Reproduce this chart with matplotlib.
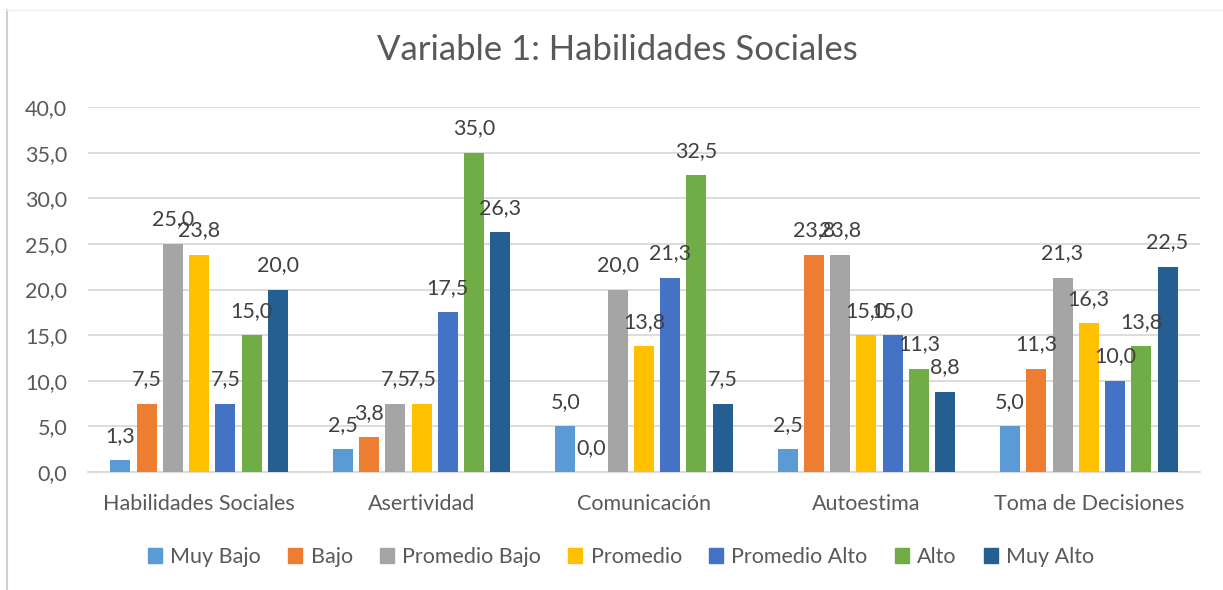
import numpy as np
import matplotlib
matplotlib.use("Agg")
from matplotlib import pyplot as plt
from matplotlib.lines import Line2D

plt.rcParams['font.family'] = ['Lato', 'DejaVu Sans']

categories = ["Habilidades Sociales", "Asertividad", "Comunicación", "Autoestima", "Toma de Decisiones"]
levels = ["Muy Bajo", "Bajo", "Promedio Bajo", "Promedio", "Promedio Alto", "Alto", "Muy Alto"]

muy_bajo = [1.3, 2.5, 5.0, 2.5, 5.0]
bajo = [7.5, 3.8, 0.0, 23.8, 11.3]
promedio_bajo = [25.0, 7.5, 20.0, 23.8, 21.3]
promedio = [23.8, 7.5, 13.8, 15.0, 16.3]
promedio_alto = [7.5, 17.5, 21.3, 15.0, 10.0]
alto = [15.0, 35.0, 32.5, 11.3, 13.8]
muy_alto = [20.0, 26.3, 7.5, 8.8, 22.5]
series = [muy_bajo, bajo, promedio_bajo, promedio, promedio_alto, alto, muy_alto]

colors = ["#5B9BD5", "#ED7D31", "#A5A5A5", "#FFC000", "#4472C4", "#70AD47", "#255E91"]
yticks = [0, 5, 10, 15, 20, 25, 30, 35, 40]

fig = plt.figure(figsize=(12.23, 5.90), dpi=100)
ax = fig.add_axes([88 / 1223, 1 - 472 / 590, (1200 - 88) / 1223, (472 - 107) / 590])

x = np.arange(len(categories))
step = 0.118
width = 0.09
for i, (vals, name, col) in enumerate(zip(series, levels, colors)):
    pos = x + (i - 3) * step
    ax.bar(pos, vals, width=width, color=col, label=name, zorder=3)
    for xp, v in zip(pos, vals):
        ax.annotate(f"{v:.1f}".replace(".", ","), (xp, v), xytext=(0, 17.5),
                    textcoords="offset points", ha="center", va="center",
                    fontsize=15.5, color="#404040", zorder=4)

ax.set_xlim(-0.5, 4.5)
ax.set_ylim(0, 40)
ax.set_yticks(yticks)
ax.set_yticklabels([f"{t:.1f}".replace(".", ",") for t in yticks])
ax.set_xticks(x)
ax.set_xticklabels(categories)
ax.tick_params(axis="both", length=0, labelsize=15.5, colors="#595959")
ax.tick_params(axis="y", pad=15)
ax.tick_params(axis="x", pad=16)
ax.grid(axis="y", color="#D9D9D9", linewidth=1.3, zorder=0)
for s in ["top", "right", "left"]:
    ax.spines[s].set_visible(False)
ax.spines["bottom"].set_color("#D9D9D9")
ax.spines["bottom"].set_linewidth(1.3)

fig.text(617 / 1223, 1 - 50 / 590, "Variable 1: Habilidades Sociales", ha="center", va="center",
         fontsize=25, color="#595959")

handles = [plt.Rectangle((0, 0), 1, 1, color=c) for c in colors]
fig.legend(handles, levels, loc="center", bbox_to_anchor=(621 / 1223, 1 - 557 / 590), ncol=7,
           frameon=False, fontsize=15.5, labelcolor="#595959", handlelength=0.65, handleheight=0.65,
           handletextpad=0.4, columnspacing=1.25)

# chart area border
fig.add_artist(Line2D([7 / 1223, 7 / 1223], [0, 1 - 10 / 590], color="#D0D0D0", linewidth=1.5))
fig.add_artist(Line2D([7 / 1223, 1], [1 - 10 / 590, 1 - 10 / 590], color="#F0F0F0", linewidth=1))

fig.savefig("out.png", dpi=100)
